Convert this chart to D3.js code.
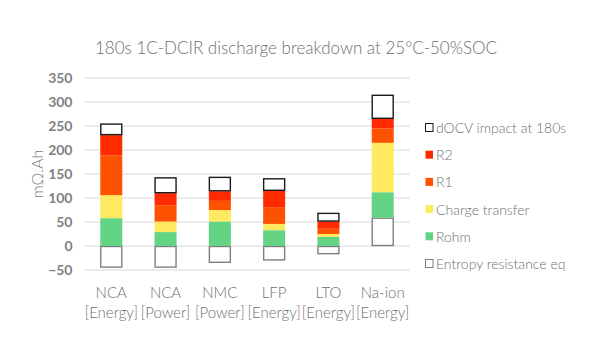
<!DOCTYPE html>
<html><head><meta charset="utf-8">
<script src="https://cdn.jsdelivr.net/npm/d3@7"></script>
<style>body{margin:0;background:#fff;} svg{display:block;}</style>
</head><body>
<svg id="c" width="610" height="357"></svg>
<script>
const categories = [["NCA","[Energy]"],["NCA","[Power]"],["NMC","[Power]"],["LFP","[Energy]"],["LTO","[Energy]"],["Na-ion","[Energy]"]];
const seriesNames = ["Entropy resistance eq","Rohm","Charge transfer","R1","R2","dOCV impact at 180s"];
const entropy = [-45, -45, -35, -30, -17, 59];
const rohm    = [58, 29, 51, 33, 19, 53];
const chargeTransfer = [48, 22, 24, 13, 6, 103];
const r1      = [83, 34, 19, 35, 11, 30];
const r2      = [42, 25, 20, 34, 15, 20];
const docv    = [24, 33, 30, 26, 18, 50];
const yTicks = [-50, 0, 50, 100, 150, 200, 250, 300, 350];

const colors = ["#ffffff","#63d384","#ffe95e","#ff5200","#ff2a00","#ffffff"];
const strokes = ["#7f7f7f",null,null,null,null,"#1a1a1a"];
const seriesVals = [entropy, rohm, chargeTransfer, r1, r2, docv];

const rows = categories.map((c,i)=>{
  const o = {cat: c.join(" ")};
  seriesNames.forEach((s,j)=> o[s] = seriesVals[j][i]);
  return o;
});
const stack = d3.stack().keys(seriesNames).offset(d3.stackOffsetDiverging)(rows);

const svg = d3.select("#c");
const x = d3.scaleBand().domain(rows.map(d=>d.cat)).range([84, 410]).paddingInner(0.595).paddingOuter(0.3);
const y = d3.scaleLinear().domain([-50, 350]).range([270, 78]);
const font = "Lato, 'Open Sans', sans-serif";

// gridlines
svg.append("g").selectAll("line").data(yTicks).join("line")
  .attr("x1",84).attr("x2",410).attr("y1",d=>y(d)).attr("y2",d=>y(d))
  .attr("stroke","#d9d9d9").attr("stroke-width",1);

// y axis labels
const yAxis = d3.axisLeft(y).tickValues(yTicks).tickSize(0).tickPadding(0);
const ga = svg.append("g").attr("transform","translate(72.5,0)").call(yAxis);
ga.select(".domain").remove();
ga.selectAll("text").attr("font-family",font).attr("font-weight","bold")
  .attr("font-size","14px").attr("fill","#7f7f7f");

// bars
stack.forEach((s,j)=>{
  svg.append("g").selectAll("rect").data(s).join("rect")
    .attr("x", d=>x(d.data.cat)+ (strokes[j]?0.5:0))
    .attr("width", x.bandwidth() - (strokes[j]?1:0))
    .attr("y", d=>y(Math.max(d[0],d[1])) + (strokes[j]?0.5:0))
    .attr("height", d=>Math.max(0, Math.abs(y(d[0])-y(d[1])) - (strokes[j]?1:0)))
    .attr("fill", colors[j])
    .attr("stroke", strokes[j] || "none")
    .attr("stroke-width", strokes[j]?1.4:0);
});

// x labels
const xl = svg.append("g");
rows.forEach((d,i)=>{
  const cx = x(d.cat)+x.bandwidth()/2;
  const t = xl.append("text").attr("x",cx).attr("text-anchor","middle")
    .attr("font-family",font).attr("font-weight","300")
    .attr("font-size","15px").attr("fill","#6f6f6f");
  t.append("tspan").attr("x",cx).attr("y",298).text(categories[i][0]);
  t.append("tspan").attr("x",cx).attr("y",318).text(categories[i][1]);
});

// title
svg.append("text").attr("x",296).attr("y",54).attr("text-anchor","middle")
  .attr("font-family",font).attr("font-weight","300")
  .attr("font-size","17px").attr("fill","#6f6f6f")
  .text("180s 1C-DCIR discharge breakdown at 25°C-50%SOC");

// y title
svg.append("text").attr("transform","translate(43,174) rotate(-90)").attr("text-anchor","middle")
  .attr("font-family",font).attr("font-weight","300")
  .attr("font-size","16px").attr("fill","#7f7f7f").text("mΩ.Ah");

// legend
const legOrder = seriesNames.map((s,j)=>j).reverse();
const lg = svg.append("g");
legOrder.forEach((j,k)=>{
  const yy = 128 + k*27.2;
  lg.append("rect").attr("x",425.5).attr("y",yy-4.5).attr("width",7.5).attr("height",8)
    .attr("fill",colors[j]).attr("stroke",strokes[j]||"none").attr("stroke-width",strokes[j]?1:0);
  lg.append("text").attr("x",436).attr("y",yy).attr("dy","0.35em")
    .attr("font-family",font).attr("font-weight","300")
    .attr("font-size","14px").attr("fill","#6f6f6f").text(seriesNames[j]);
});
</script>
</body></html>
